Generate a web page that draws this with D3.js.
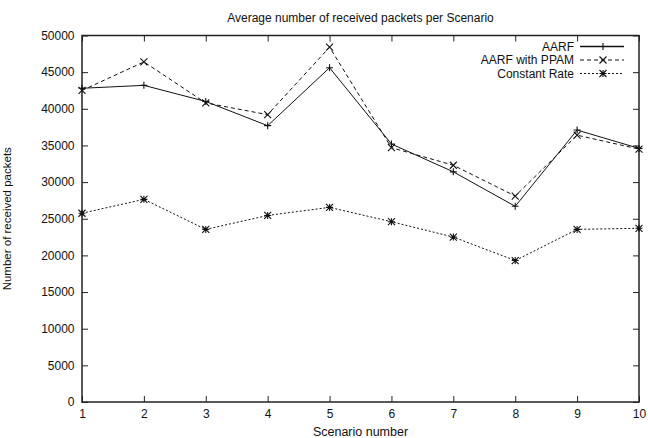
<!DOCTYPE html>
<html>
<head>
<meta charset="utf-8">
<script src="https://cdn.jsdelivr.net/npm/d3@7"></script>
<style>
  body { margin: 0; background: #fff; }
  svg text { font-family: "Liberation Sans", Arial, sans-serif; fill: #111; }
</style>
</head>
<body>
<div id="wrapper"></div>
<script>
// data
const scenarios = [1, 2, 3, 4, 5, 6, 7, 8, 9, 10];
const aarf = [42800, 43200, 41000, 37700, 45600, 35200, 31400, 26700, 37100, 34600];
const aarfPpam = [42500, 46400, 40800, 39200, 48400, 34700, 32300, 28100, 36400, 34500];
const constantRate = [25750, 27650, 23550, 25450, 26550, 24600, 22500, 19300, 23550, 23700];
const yTicks = [0, 5000, 10000, 15000, 20000, 25000, 30000, 35000, 40000, 45000, 50000];
const seriesNames = ["AARF", "AARF with PPAM", "Constant Rate"];

const drawChart = () => {
  const dimensions = {
    width: 648,
    height: 438,
    margin: { top: 35.5, right: 9, bottom: 36, left: 82 }
  };
  dimensions.boundedWidth = dimensions.width - dimensions.margin.left - dimensions.margin.right;
  dimensions.boundedHeight = dimensions.height - dimensions.margin.top - dimensions.margin.bottom;

  const svg = d3.select("#wrapper").append("svg")
    .attr("width", dimensions.width)
    .attr("height", dimensions.height);

  const bounds = svg.append("g")
    .attr("transform", `translate(${dimensions.margin.left},${dimensions.margin.top})`);

  const xScale = d3.scaleLinear().domain([1, 10]).range([0, dimensions.boundedWidth]);
  const yScale = d3.scaleLinear().domain([0, 50000]).range([dimensions.boundedHeight, 0]);

  // axes, gnuplot style: ticks point inward and are mirrored
  const tickLen = 6;
  const xAxis = d3.axisBottom(xScale).tickValues(scenarios).tickSize(-tickLen).tickFormat(d3.format("d"));
  const yAxis = d3.axisLeft(yScale).tickValues(yTicks).tickSize(-tickLen).tickPadding(7.5).tickFormat(d3.format("d"));

  const gx = bounds.append("g").attr("transform", `translate(0,${dimensions.boundedHeight})`).call(xAxis);
  const gy = bounds.append("g").call(yAxis);
  bounds.append("g").call(d3.axisTop(xScale).tickValues(scenarios).tickSize(-tickLen).tickFormat(""));
  bounds.append("g").attr("transform", `translate(${dimensions.boundedWidth},0)`)
    .call(d3.axisRight(yScale).tickValues(yTicks).tickSize(-tickLen).tickFormat(""));

  bounds.selectAll(".domain").remove();
  bounds.selectAll(".tick line").attr("stroke", "#222").attr("stroke-width", 1);
  gx.selectAll("text").attr("font-size", 12).attr("y", 16).attr("dy", 0);
  gy.selectAll("text").attr("font-size", 12);

  bounds.append("rect")
    .attr("width", dimensions.boundedWidth)
    .attr("height", dimensions.boundedHeight)
    .attr("fill", "none")
    .attr("stroke", "#222")
    .attr("stroke-width", 1.5);

  // series
  const series = [
    { name: seriesNames[0], values: aarf, dash: null, marker: "plus" },
    { name: seriesNames[1], values: aarfPpam, dash: "4,3", marker: "cross" },
    { name: seriesNames[2], values: constantRate, dash: "2,2", marker: "star" }
  ];

  const line = d3.line()
    .x((d, i) => xScale(scenarios[i]))
    .y(d => yScale(d));

  const s = 3.5;
  const markerPath = (type) => {
    const plus = `M${-s},0H${s}M0,${-s}V${s}`;
    const cross = `M${-s},${-s}L${s},${s}M${-s},${s}L${s},${-s}`;
    if (type === "plus") return plus;
    if (type === "cross") return cross;
    return plus + cross;
  };

  series.forEach(ser => {
    bounds.append("path")
      .datum(ser.values)
      .attr("d", line)
      .attr("fill", "none")
      .attr("stroke", "#111")
      .attr("stroke-width", 1)
      .attr("stroke-dasharray", ser.dash);

    bounds.append("g").selectAll("path")
      .data(ser.values)
      .join("path")
      .attr("transform", (d, i) => `translate(${xScale(scenarios[i])},${yScale(d)})`)
      .attr("d", markerPath(ser.marker))
      .attr("stroke", "#111")
      .attr("stroke-width", 1.1)
      .attr("fill", "none");
  });

  // legend
  const legend = svg.append("g");
  series.forEach((ser, i) => {
    const y = 46.5 + i * 13.5;
    legend.append("text")
      .attr("x", 574).attr("y", y)
      .attr("dy", "0.35em")
      .attr("text-anchor", "end")
      .attr("font-size", 12)
      .text(ser.name);
    legend.append("line")
      .attr("x1", 580).attr("x2", 624).attr("y1", y).attr("y2", y)
      .attr("stroke", "#111").attr("stroke-width", ser.dash ? 1 : 1.5)
      .attr("stroke-dasharray", ser.dash);
    legend.append("path")
      .attr("transform", `translate(603,${y})`)
      .attr("d", markerPath(ser.marker))
      .attr("stroke", "#111").attr("stroke-width", 1.1).attr("fill", "none");
  });

  // title and axis labels
  svg.append("text")
    .attr("x", dimensions.margin.left + dimensions.boundedWidth / 2).attr("y", 22)
    .attr("text-anchor", "middle").attr("font-size", 12)
    .text("Average number of received packets per Scenario");

  svg.append("text")
    .attr("x", dimensions.margin.left + dimensions.boundedWidth / 2).attr("y", 436)
    .attr("text-anchor", "middle").attr("font-size", 12.5)
    .text("Scenario number");

  svg.append("text")
    .attr("transform", `translate(11,${dimensions.margin.top + dimensions.boundedHeight / 2}) rotate(-90)`)
    .attr("text-anchor", "middle").attr("font-size", 11.5)
    .text("Number of received packets");
};

drawChart();
</script>
</body>
</html>
